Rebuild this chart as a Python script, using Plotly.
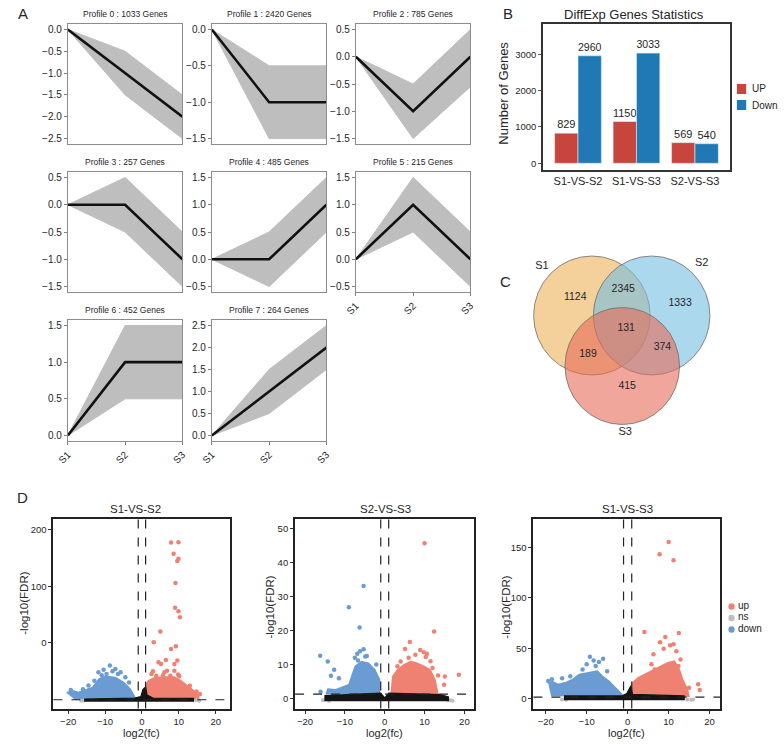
import plotly.graph_objects as go

W, H = 784, 745
FONT = "Liberation Sans, Arial, sans-serif"
TXT = "#262626"

# ---------------- Panel A data ----------------
stages = ["S1", "S2", "S3"]
profile_ids = [0, 1, 2, 3, 4, 5, 6, 7]
profile_genes = [1033, 2420, 785, 257, 485, 215, 452, 264]
model_profiles = [
    [0, -1, -2], [0, -1, -1], [0, -1, 0], [0, 0, -1],
    [0, 0, 1], [0, 1, 0], [0, 1, 1], [0, 1, 2],
]
band_upper = [
    [0, -0.5, -1.5], [0, -0.5, -0.5], [0, -0.5, 0.5], [0, 0.5, -0.5],
    [0, 0.5, 1.5], [0, 1.5, 0.5], [0, 1.5, 1.5], [0, 1.5, 2.5],
]
band_lower = [
    [0, -1.5, -2.5], [0, -1.5, -1.5], [0, -1.5, -0.55], [0, -0.5, -1.5],
    [0, -0.5, 0.5], [0, 0.5, -0.5], [0, 0.5, 0.5], [0, 0.5, 1.5],
]

# ---------------- Panel B data ----------------
comparisons = ["S1-VS-S2", "S1-VS-S3", "S2-VS-S3"]
up_counts = [829, 1150, 569]
down_counts = [2960, 3033, 540]
bar_series = ["UP", "Down"]

# ---------------- Panel C data ----------------
venn_sets = ["S1", "S2", "S3"]
venn_counts = [1124, 2345, 1333, 131, 189, 374, 415]

# ---------------- Panel D data ----------------
v1_up_x = [7.9, 9.9, 8.6, 9.9, 9.6, 9.1, 9.0, 9.9, 10.3, 5.0, 3.2, 7.9, 9.2, 4.5, 5.2, 6.5, 8.8, 9.6,
           3.0, 6.1, 6.8, 9.8, 15.7, 14.8, 13.0, 2.6, 3.9, 5.7, 7.7, 8.8, 10.1]
v1_up_y = [177, 177.6, 157.5, 148.6, 144.5, 105.6, 61.9, 56, 45.4, 20, 1.2, -10.6, -5.9, -34.2, -37.2,
           -30.1, -37.2, -31.3, -50.2, -52, -49, -56, -90.3, -85.6, -75.5, -55, -58, -57, -58, -49, -59]
v1_up_cloud_x = [0.8, 0.9, 1.7, 3.5, 6.1, 8.8, 10.5, 12.3, 14.1, 15.4, 15.4]
v1_up_cloud_y = [-100, -78.5, -66.7, -61, -60, -60, -66.7, -75.5, -84.4, -93.3, -100]
v1_down_x = [-8.7, -9.6, -11.8, -10.4, -7.2, -4.5, -6.5, -12.9, -19.3, -8.0, -5.8, -10.9, -14.5, -16.0, -3.5]
v1_down_y = [-40.1, -54.9, -52, -47.2, -46.1, -60.8, -54.9, -66.7, -83.2, -50, -52, -57, -75, -82, -70]
v1_down_cloud_x = [-17.8, -20.3, -18.7, -17.3, -13.4, -11.6, -9.8, -7.2, -5.0, -3.2, -1.9, -1.9]
v1_down_cloud_y = [-100.5, -87.4, -84.4, -87.4, -78.5, -63.7, -59, -61, -69.6, -81.5, -96.2, -100.5]
v1_ns_cloud_x = [-15.5, -15.5, -2, -0.3, 0.3, 1.0, 1.4, 3, 14, 14]
v1_ns_cloud_y = [-104, -99, -97.5, -95, -82, -78, -92, -97.5, -98, -104]
v1_ns_x = [-16.5, -15.8, 14.8, 15.5]
v1_ns_y = [-102, -101.5, -101, -102]

v2_up_x = [10.0, 12.4, 6.3, 5.1, 9.8, 10.6, 10.3, 18.6, 14.9, 15.1, 13.4, 10.7, 8.9, 7.7, 4.0, 3.2, 6.0, 11.5, 12.0]
v2_up_y = [45.6, 19.7, 16.6, 14.6, 13.6, 13.2, 12.2, 7.0, 4.1, 6.5, 6.8, 7.5, 14.3, 12.9, 10.9, 9.5, 12, 11, 9]
v2_up_cloud_x = [1.6, 2.0, 3.2, 4.9, 6.5, 8.1, 9.8, 11.4, 12.6, 13.4]
v2_up_cloud_y = [1.2, 6.5, 8.5, 10, 10.9, 10.4, 9.5, 8.5, 5.6, 1.2]
v2_down_x = [-5.3, -9.0, -6.3, -5.3, -6.2, -6.9, -4.9, -16.2, -14.3, -12.7, -13.5, -11.5, -16.1, -2.1, -6.7, -4.5, -7.5]
v2_down_y = [33.1, 26.8, 20.9, 14.5, 13.9, 13.2, 12.4, 12.6, 10.9, 8.5, 6.7, 6.0, 2.0, 10.0, 11.2, 12.5, 12]
v2_down_cloud_x = [-14.7, -14.3, -12.3, -9.0, -7.4, -5.8, -4.1, -2.5, -1.3, -1.3]
v2_down_cloud_y = [1.2, 2.8, 2.6, 4.1, 9.5, 10.9, 10.4, 8.5, 5.6, 1.2]
v2_ns_cloud_x = [-15, -15, -1, 0, 1, 14, 16, 16]
v2_ns_cloud_y = [-0.8, 0.9, 1.6, 0.2, 1.6, 1.2, 0.5, -0.8]
v2_ns_x = [-15.5, -14, 16.5, 15.8, 17]
v2_ns_y = [-0.5, -0.6, -0.5, -0.3, -0.6]

v3_up_x = [10.0, 7.8, 11.2, 4.1, 12.5, 9.2, 7.9, 10.4, 11.2, 8.8, 6.3, 11.9, 17.2, 17.6, 15.0, 13.8, 12.9, 12.4, 10.6, 6.6, 5.8]
v3_up_y = [155.7, 143.4, 137.4, 66, 65, 61, 56, 52.8, 53.8, 49.5, 44, 47, 14, 8.3, 10.6, 9, 38.8, 32.2, 28.9, 28.9, 33.9]
v3_up_cloud_x = [1, 1.2, 2.6, 5, 7.4, 9.8, 11.4, 12.6, 13.4, 14.6, 15]
v3_up_cloud_y = [1.5, 15.6, 20.6, 25.6, 30.5, 35.5, 37.2, 28.9, 18.9, 9, 1.5]
v3_down_x = [-9.2, -8.3, -7.0, -6.0, -10.0, -11.0, -12.2, -19.4, -7.8, -5.0, -14.0, -16.0, -18.5]
v3_down_y = [41.5, 37.8, 36.2, 39.5, 33.9, 28.9, 20.6, 17.3, 32.2, 27, 22, 20, 19]
v3_down_cloud_x = [-18.5, -19.2, -18.5, -17, -15, -13.4, -11.8, -9.8, -7.4, -6.2, -4.6, -3, -1.4, -1.4]
v3_down_cloud_y = [2.3, 15, 17, 14, 16, 18.9, 23.9, 25.6, 27.2, 22.2, 17.3, 10.6, 4, 1.5]
v3_ns_cloud_x = [-15.4, -15.4, -1.5, -0.2, 0.8, 1.2, 13.8, 13.8]
v3_ns_cloud_y = [-1.7, 2.5, 2.5, 5, 12.5, 4, 2.5, -1.7]
v3_ns_x = [-16, -15, 14.5, 15.5, 16]
v3_ns_y = [-1, -1.2, -1, -1.3, -1]

volcano_classes = ["up", "ns", "down"]
fc_cut = 1.0
v1_fdr_line = -100.4
fdr_line = 1.3

# ---------------- helpers ----------------
def dx(a, b):
    return [a / W, b / W]

def dy(top, bottom):
    return [1 - bottom / H, 1 - top / H]

def fx(p):
    return p / W

def fy(p):
    return 1 - p / H

def xn(i):
    return "x" if i == 1 else f"x{i}"

def yn(i):
    return "y" if i == 1 else f"y{i}"

def xk(i):
    return "xaxis" if i == 1 else f"xaxis{i}"

def yk(i):
    return "yaxis" if i == 1 else f"yaxis{i}"

fig = go.Figure()
lay = {}
ann = []
shp = []

def text(x, y, s, size, **kw):
    d = dict(x=fx(x), y=fy(y), xref="paper", yref="paper", text=s, showarrow=False,
             font=dict(family=FONT, size=size, color=TXT), xanchor="center", yanchor="middle")
    d.update(kw)
    ann.append(d)

# ---------------- Panel A ----------------
cols = [(58, 175), (205, 322), (352, 469)]
rows = [(24, 144), (172, 292), (320, 441)]
labelled = {5, 6, 7}
for i, pid in enumerate(profile_ids):
    r, c = divmod(i, 3)
    a = i + 1
    x0, x1 = cols[c]
    y0, y1 = rows[r]
    up, lo = band_upper[i], band_lower[i]
    pos = list(range(len(stages)))
    fig.add_trace(go.Scatter(x=pos + pos[::-1], y=up + lo[::-1], fill="toself", fillcolor="#BEBEBE",
                             line=dict(color="#BEBEBE", width=1), mode="lines", hoverinfo="skip",
                             showlegend=False, xaxis=xn(a), yaxis=yn(a)))
    fig.add_trace(go.Scatter(x=pos, y=model_profiles[i], mode="lines", line=dict(color="#111111", width=2.6),
                             hoverinfo="skip", showlegend=False, xaxis=xn(a), yaxis=yn(a)))
    ymin, ymax = min(lo), max(up)
    pad = 0.05 * (ymax - ymin)
    lay[xk(a)] = dict(domain=dx(x0, x1), anchor=yn(a), range=[0, 2], tickvals=pos, ticktext=stages,
                      showticklabels=pid in labelled, ticks="outside" if pid in labelled else "",
                      ticklen=3, tickcolor="#7f7f7f", tickangle=-45,
                      tickfont=dict(family=FONT, size=10, color=TXT),
                      showline=True, mirror=True, linecolor="#8c8c8c", linewidth=1,
                      showgrid=False, zeroline=False)
    lay[yk(a)] = dict(domain=dy(y0, y1), anchor=xn(a), range=[ymin - pad, ymax + pad], dtick=0.5,
                      tick0=0, tickformat=".1f", ticks="outside", ticklen=3, tickcolor="#7f7f7f",
                      tickfont=dict(family=FONT, size=10, color=TXT),
                      showline=True, mirror=True, linecolor="#8c8c8c", linewidth=1,
                      showgrid=False, zeroline=False)
    text((x0 + x1) / 2, y0 - 10, f"Profile {pid} : {profile_genes[i]} Genes", 8.5)

# ---------------- Panel B ----------------
RED, BLUE = "#C8453D", "#2079B4"
for name, vals, col in ((bar_series[0], up_counts, RED), (bar_series[1], down_counts, BLUE)):
    fig.add_trace(go.Bar(x=comparisons, y=vals, name=name,
                         marker=dict(color=col, line=dict(color="#e6eef5", width=0.6)),
                         text=vals, textposition="outside", cliponaxis=False, showlegend=False,
                         textfont=dict(family=FONT, size=11, color=TXT), xaxis="x9", yaxis="y9",
                         hoverinfo="skip"))
lay["xaxis9"] = dict(domain=dx(543, 734), anchor="y9", type="category", range=[-0.6, 2.6],
                     tickfont=dict(family=FONT, size=11, color=TXT), ticks="", showline=True, mirror=True,
                     linecolor="#333333", linewidth=1.5, showgrid=False, zeroline=False)
lay["yaxis9"] = dict(domain=dy(24, 170), anchor="x9", range=[-184, 3834], tickvals=[0, 1000, 2000, 3000],
                     ticks="outside", ticklen=3, tickcolor="#555555",
                     tickfont=dict(family=FONT, size=9.5, color=TXT), showline=True, mirror=True,
                     linecolor="#333333", linewidth=1.5, showgrid=False, zeroline=False)
text(636, 15, "DiffExp Genes Statistics", 13)
text(503, 93, "Number of Genes", 13, textangle=-90)
# bar legend (manual)
for name, col, yy in ((bar_series[0], RED, 89), (bar_series[1], BLUE, 105)):
    shp.append(dict(type="rect", xref="paper", yref="paper", x0=fx(741), x1=fx(750.5),
                    y0=fy(yy + 5), y1=fy(yy - 5), fillcolor=col, line=dict(width=0)))
    text(754, yy, name, 10, xanchor="left")

# ---------------- Panel C ----------------
circ = [(593, 315.5, 59.5, "rgba(237,177,88,0.6)"), (654, 315.5, 59.5, "rgba(117,190,227,0.6)"),
        (624, 366, 58.5, "rgba(230,107,88,0.6)")]
for cx, cy, rr, col in circ:
    shp.append(dict(type="circle", xref="x10", yref="y10", x0=cx - rr, x1=cx + rr, y0=cy - rr, y1=cy + rr,
                    fillcolor=col, line=dict(color="#6f6f6f", width=0.8), layer="below"))
venn_pos_x = [576, 625, 683, 628, 589, 665, 629]
venn_pos_y = [297, 289, 303, 328, 354, 347, 386]
fig.add_trace(go.Scatter(x=venn_pos_x, y=venn_pos_y, text=[str(v) for v in venn_counts], mode="text",
                         textfont=dict(family=FONT, size=10.5, color=TXT), hoverinfo="skip",
                         showlegend=False, xaxis="x10", yaxis="y10"))
set_pos_x = [542, 705, 627]
set_pos_y = [266, 263, 432]
fig.add_trace(go.Scatter(x=set_pos_x, y=set_pos_y, text=venn_sets, mode="text",
                         textfont=dict(family=FONT, size=11, color=TXT), hoverinfo="skip",
                         showlegend=False, xaxis="x10", yaxis="y10"))
lay["xaxis10"] = dict(domain=dx(490, 740), anchor="y10", range=[490, 740], visible=False)
lay["yaxis10"] = dict(domain=dy(240, 445), anchor="x10", range=[445, 240], visible=False)

# ---------------- Panel D ----------------
UPC, DNC, NSC = "#EF8173", "#6A9BD2", "#BDBDBD"
volc = [
    dict(up=(v1_up_x, v1_up_y), upc=(v1_up_cloud_x, v1_up_cloud_y), dn=(v1_down_x, v1_down_y),
         dnc=(v1_down_cloud_x, v1_down_cloud_y), nsc=(v1_ns_cloud_x, v1_ns_cloud_y), ns=(v1_ns_x, v1_ns_y),
         hline=v1_fdr_line, box=(43.3, 224), xr=[-24, 24], yr=[-115.8, 219.5], yt=[0, 100, 200],
         title="S1-VS-S2", tx=127, ytx=13, yty=603),
    dict(up=(v2_up_x, v2_up_y), upc=(v2_up_cloud_x, v2_up_cloud_y), dn=(v2_down_x, v2_down_y),
         dnc=(v2_down_cloud_x, v2_down_cloud_y), nsc=(v2_ns_cloud_x, v2_ns_cloud_y), ns=(v2_ns_x, v2_ns_y),
         hline=fdr_line, box=(290, 473), xr=[-22.5, 22.5], yr=[-2.9, 52.9], yt=[0, 10, 20, 30, 40, 50],
         title="S2-VS-S3", tx=382, ytx=264, yty=607),
    dict(up=(v3_up_x, v3_up_y), upc=(v3_up_cloud_x, v3_up_cloud_y), dn=(v3_down_x, v3_down_y),
         dnc=(v3_down_cloud_x, v3_down_cloud_y), nsc=(v3_ns_cloud_x, v3_ns_cloud_y), ns=(v3_ns_x, v3_ns_y),
         hline=fdr_line, box=(533.3, 724), xr=[-23, 22.6], yr=[-10, 179], yt=[0, 50, 100, 150],
         title="S1-VS-S3", tx=629, ytx=505, yty=607),
]
for k, v in enumerate(volc):
    a = 11 + k
    xa, ya = xn(a), yn(a)
    common = dict(hoverinfo="skip", showlegend=False, xaxis=xa, yaxis=ya)
    for (cx, cy), col in ((v["dnc"], DNC), (v["upc"], UPC)):
        fig.add_trace(go.Scatter(x=cx, y=cy, fill="toself", fillcolor=col, mode="lines",
                                 line=dict(color=col, width=1.5), **common))
    fig.add_trace(go.Scatter(x=v["ns"][0], y=v["ns"][1], mode="markers",
                             marker=dict(color=NSC, size=4), **common))
    fig.add_trace(go.Scatter(x=v["nsc"][0], y=v["nsc"][1], fill="toself", fillcolor="#141414", mode="lines",
                             line=dict(color="#141414", width=1.2), **common))
    for (px_, py_), col in ((v["dn"], DNC), (v["up"], UPC)):
        fig.add_trace(go.Scatter(x=px_, y=py_, mode="markers", marker=dict(color=col, size=4.5), **common))
    x0, x1 = v["box"]
    lay[xk(a)] = dict(domain=dx(x0, x1), anchor=ya, range=v["xr"], tickvals=[-20, -10, 0, 10, 20],
                      ticks="outside", ticklen=3, tickcolor="#333333",
                      tickfont=dict(family=FONT, size=9.5, color=TXT),
                      showline=True, mirror=True, linecolor="#222222", linewidth=2,
                      showgrid=False, zeroline=False)
    lay[yk(a)] = dict(domain=dy(518.5, 708.5), anchor=xa, range=v["yr"], tickvals=v["yt"],
                      ticks="outside", ticklen=3, tickcolor="#333333",
                      tickfont=dict(family=FONT, size=9.5, color=TXT),
                      showline=True, mirror=True, linecolor="#222222", linewidth=2,
                      showgrid=False, zeroline=False)
    for xv in (-fc_cut, fc_cut):
        shp.append(dict(type="line", xref=xa, yref=f"{ya} domain", x0=xv, x1=xv, y0=0, y1=1,
                        line=dict(color="#222222", width=1.2, dash="dash")))
    shp.append(dict(type="line", xref=f"{xa} domain", yref=ya, x0=0, x1=1, y0=v["hline"], y1=v["hline"],
                    line=dict(color="#222222", width=1.2, dash="dash")))
    text(v["tx"], 509, v["title"], 11.5)
    text((x0 + x1) / 2, 733, "log2(fc)", 11)
    text(v["ytx"], v["yty"], "-log10(FDR)", 11.5, textangle=-90)

# volcano legend (manual)
leg_cols = [UPC, NSC, DNC]
leg_y = [605, 616.5, 628]
for name, col, yy in zip(volcano_classes, leg_cols, leg_y):
    rr = 3.2
    shp.append(dict(type="circle", xref="paper", yref="paper", x0=fx(735.5 - rr), x1=fx(735.5 + rr),
                    y0=fy(yy + 1.5 + rr), y1=fy(yy + 1.5 - rr), fillcolor=col, line=dict(width=0)))
    text(740.5, yy, name, 10, xanchor="left")

# panel letters
for s, x, y in (("A", 12, 13), ("B", 507, 13), ("C", 505, 281), ("D", 12, 497)):
    text(x, y, s, 15)

fig.update_layout(
    width=W, height=H, margin=dict(l=0, r=0, t=0, b=0), paper_bgcolor="white", plot_bgcolor="white",
    barmode="group", bargap=0.2, bargroupgap=0, showlegend=False,
    font=dict(family=FONT, color=TXT),
    annotations=ann, shapes=shp,
    **lay,
)

fig.write_html("out.html", config={"displayModeBar": False},
               post_script="document.body.style.margin='0';document.body.style.overflow='hidden';")
